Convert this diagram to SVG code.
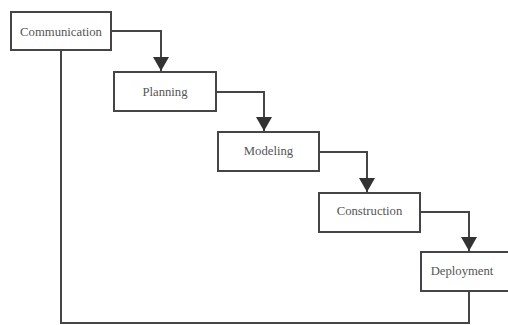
<svg xmlns="http://www.w3.org/2000/svg" width="508" height="325" viewBox="0 0 508 325">
<style>
.box{fill:#fff;stroke:#454545;stroke-width:2}
.lbl{font-family:'Liberation Serif','Times New Roman',serif;font-size:12.7px;fill:#555;text-anchor:middle}
.con{fill:none;stroke:#454545;stroke-width:2}
</style>
<defs>
<marker id="ah" viewBox="0 0 14 16" refX="14" refY="8" markerWidth="14" markerHeight="16" markerUnits="userSpaceOnUse" orient="auto">
<path d="M0,0 L14,8 L0,16 Z" fill="#333"/>
</marker>
</defs>
<rect width="508" height="325" fill="#fff"/>
<g id="connectors">
<path class="con" d="M111,31 H161 V71" marker-end="url(#ah)"/>
<path class="con" d="M216,92 H264 V131" marker-end="url(#ah)"/>
<path class="con" d="M319,152 H367 V192" marker-end="url(#ah)"/>
<path class="con" d="M420,212 H469 V251" marker-end="url(#ah)"/>
<path class="con" d="M61,50 V323 H469 V291"/>
</g>
<g id="communication"><rect class="box" x="11" y="12" width="100" height="38"/><text class="lbl" x="61" y="35.5" font-family="Liberation Serif, serif">Communication</text></g>
<g id="planning"><rect class="box" x="114" y="72" width="102" height="39"/><text class="lbl" x="165" y="95.5" font-family="Liberation Serif, serif">Planning</text></g>
<g id="modeling"><rect class="box" x="218" y="132" width="101" height="39"/><text class="lbl" x="268.5" y="155" font-family="Liberation Serif, serif">Modeling</text></g>
<g id="construction"><rect class="box" x="319" y="193" width="101" height="39"/><text class="lbl" x="369.5" y="215" font-family="Liberation Serif, serif">Construction</text></g>
<g id="deployment"><rect class="box" x="421" y="252" width="92" height="39"/><text class="lbl" x="462" y="275" font-family="Liberation Serif, serif">Deployment</text></g>
</svg>
